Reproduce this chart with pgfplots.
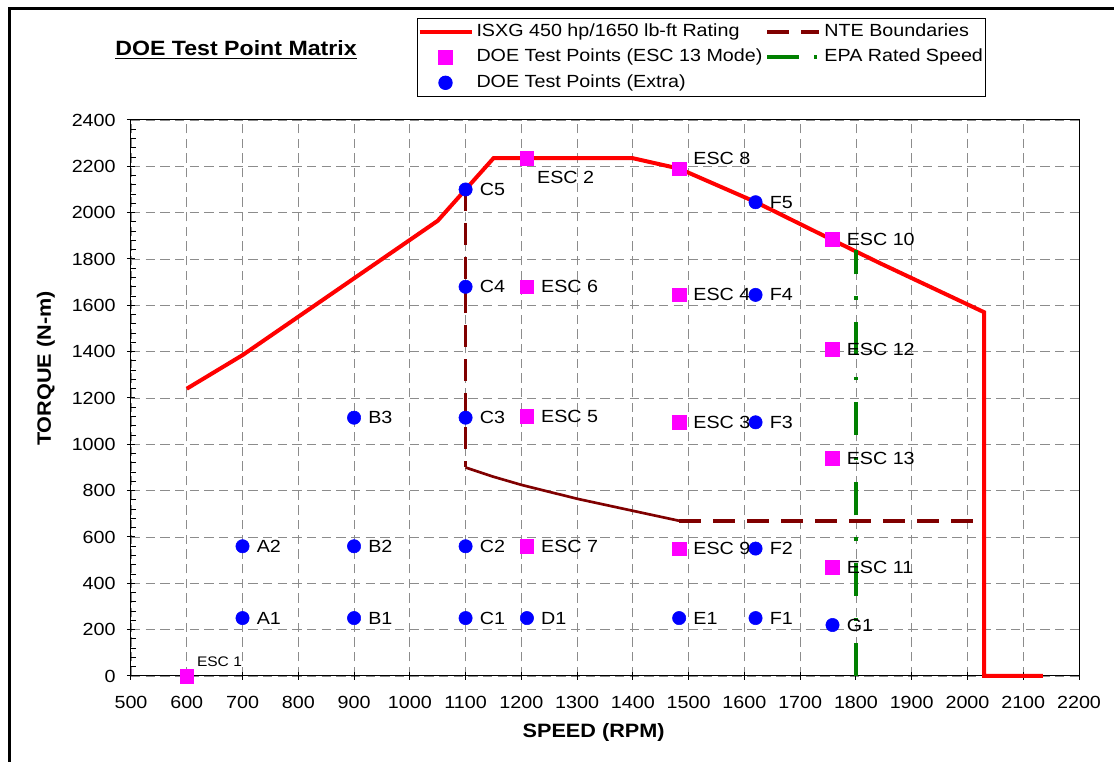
\documentclass[border=0pt]{standalone}
\usepackage{pgfplots}
\pgfplotsset{compat=1.18}
\usepackage{fontspec}
\setmainfont{Liberation Sans}[FakeStretch=1.12]
\setsansfont{Liberation Sans}[FakeStretch=1.12]

\definecolor{ratingred}{RGB}{255,0,0}
\definecolor{ntered}{RGB}{128,0,0}
\definecolor{epagreen}{RGB}{0,128,0}
\definecolor{escmag}{RGB}{255,0,255}
\definecolor{xblue}{RGB}{0,0,255}
\definecolor{gridgray}{RGB}{140,140,140}

\newcommand{\lblfont}{\fontsize{13.2}{16}\selectfont}

\pgfplotsset{
  widelegend/.style={legend image code/.code={%
    \draw[mark repeat=2,mark phase=2,##1] plot coordinates {(0pt,0pt) (19.5pt,0pt) (39pt,0pt)};}},
  epalegend/.style={legend image code/.code={%
    \draw[##1, dash pattern=on 24pt off 11pt on 2.5pt off 11pt] (0pt,0pt) -- (39pt,0pt);}},
  lblright/.style={nodes near coords, point meta=explicit symbolic,
    nodes near coords style={anchor=west, inner sep=0pt, xshift=10.5pt, font=\lblfont, text=black}},
}

\begin{document}
\begin{tikzpicture}
\useasboundingbox (0pt,0pt) rectangle (835.5pt,571.5pt);
% outer chart frame (left and top edges visible)
\draw[line width=2.25pt] (6.75pt,0pt) -- (6.75pt,564.75pt) -- (840pt,564.75pt);
% title
\node (ttl) [anchor=base, inner sep=0pt, font=\bfseries\fontsize{15.5}{18}\selectfont] at (177pt,529.7pt) {DOE Test Point Matrix};
\draw[line width=1.3pt] ([yshift=-2pt]ttl.base west) -- ([yshift=-2pt]ttl.base east);

\begin{axis}[
  at={(98.25pt,64.5pt)}, anchor=south west,
  scale only axis, width=711pt, height=417pt,
  xmin=500, xmax=2200, ymin=0, ymax=2400,
  xtick={500,600,...,2200}, ytick={0,200,...,2400},
  minor y tick num=4,
  xtick pos=left, ytick pos=left,
  grid=major,
  major grid style={gridgray, dash pattern=on 7pt off 4pt, line width=0.6pt},
  axis line style={black, line width=0.75pt},
  tick style={black, line width=0.75pt},
  tick align=center, major tick length=6pt, minor tick length=3.75pt,
  minor tick style={xshift=1.875pt},
  /pgf/number format/assume math mode=true,
  /pgf/number format/set thousands separator={},
  ticklabel style={font=\lblfont},
  xticklabel style={yshift=-9pt},
  yticklabel style={xshift=-5pt},
  xlabel={SPEED (RPM)}, ylabel={TORQUE (N-m)},
  label style={font=\bfseries\fontsize{14.5}{17}\selectfont},
  xlabel style={at={(axis description cs:0.488,-0.1025)}, anchor=center},
  ylabel style={at={(axis description cs:-0.0897,0.553)}, anchor=center},
  clip=false,
  legend columns=2,
  legend cell align=left,
  legend style={at={(axis description cs:0.3017,1.1835)}, anchor=north west,
    draw=black, line width=0.75pt, inner xsep=0pt, inner ysep=0.5pt,
    font=\lblfont, row sep=0pt, column sep=0pt,
    nodes={inner xsep=2.25pt, inner ysep=3.3pt, text height=9.5pt, text depth=3pt},
    column 4/.style={nodes={text width=230pt, align=left}}},
]

% ISXG rating curve
\addplot[color=ratingred, line width=3pt, widelegend] coordinates {
  (600,1240) (700,1385) (1050,1965) (1100,2100) (1150,2235) (1400,2235)
  (1483,2190) (1620,2046) (1757,1883) (1843,1782) (2030,1570) (2030,0) (2135,0)
};
\addlegendentry{ISXG 450 hp/1650 lb-ft Rating}

% NTE boundaries
\addplot[color=ntered, line width=2.6pt, dash pattern=on 16.5pt off 9pt, widelegend] coordinates {
  (1100,2100) (1100,900)
};
\addlegendentry{NTE Boundaries}
\addplot[color=ntered, line width=2pt, forget plot] coordinates {
  (1100,900) (1150,860) (1200,825) (1300,765) (1400,713) (1483,670)
};
\addplot[color=ntered, line width=2.6pt, dash pattern=on 16.5pt off 9pt, forget plot] coordinates {
  (1483,670) (2030,670)
};

% ESC 13 mode test points
\addplot[only marks, mark=square*, mark size=5.1pt, color=escmag, widelegend, lblright]
  table[col sep=comma, row sep=\\, meta=lab] {
  x,y,lab\\
  1483,1095,ESC 3\\
  1483,1645,ESC 4\\
  1210,1120,ESC 5\\
  1210,1680,ESC 6\\
  1210,560,ESC 7\\
  1483,550,ESC 9\\
  1758,1885,ESC 10\\
  1758,470,ESC 11\\
  1758,1410,ESC 12\\
  1758,940,ESC 13\\
};
\addlegendentry{DOE Test Points (ESC 13 Mode)}
\addplot[only marks, mark=square*, mark size=5.1pt, color=escmag, forget plot,
  nodes near coords, point meta=explicit symbolic,
  nodes near coords style={anchor=west, inner sep=0pt, xshift=7.5pt, yshift=-14.25pt, font=\lblfont, text=black}]
  table[col sep=comma, row sep=\\, meta=lab] {
  x,y,lab\\
  1210,2235,ESC 2\\
};
\addplot[only marks, mark=square*, mark size=5.1pt, color=escmag, forget plot,
  nodes near coords, point meta=explicit symbolic,
  nodes near coords style={anchor=west, inner sep=0pt, xshift=10.5pt, yshift=7.5pt, font=\lblfont, text=black}]
  table[col sep=comma, row sep=\\, meta=lab] {
  x,y,lab\\
  1483,2190,ESC 8\\
};
\addplot[only marks, mark=square*, mark size=5.1pt, color=escmag, forget plot,
  nodes near coords, point meta=explicit symbolic,
  nodes near coords style={anchor=west, inner sep=0pt, xshift=7.5pt, yshift=10.7pt, font=\fontsize{10.4}{12}\selectfont, text=black}]
  table[col sep=comma, row sep=\\, meta=lab] {
  x,y,lab\\
  600,0,ESC 1\\
};

% EPA rated speed
\addplot[color=epagreen, line width=3pt, dash pattern=on 24.75pt off 16.5pt on 2.5pt off 16.5pt, epalegend]
  coordinates {(1800,0) (1800,1840)};
\addlegendentry{EPA Rated Speed}

% extra test points
\addplot[only marks, mark=*, mark size=5pt, color=xblue, widelegend, lblright]
  table[col sep=comma, row sep=\\, meta=lab] {
  x,y,lab\\
  700,250,A1\\
  700,560,A2\\
  900,250,B1\\
  900,560,B2\\
  900,1115,B3\\
  1100,250,C1\\
  1100,560,C2\\
  1100,1115,C3\\
  1100,1680,C4\\
  1100,2100,C5\\
  1210,250,D1\\
  1483,250,E1\\
  1620,250,F1\\
  1620,550,F2\\
  1620,1095,F3\\
  1620,1645,F4\\
  1620,2045,F5\\
  1758,220,G1\\
};
\addlegendentry{DOE Test Points (Extra)}

\end{axis}
\end{tikzpicture}
\end{document}
